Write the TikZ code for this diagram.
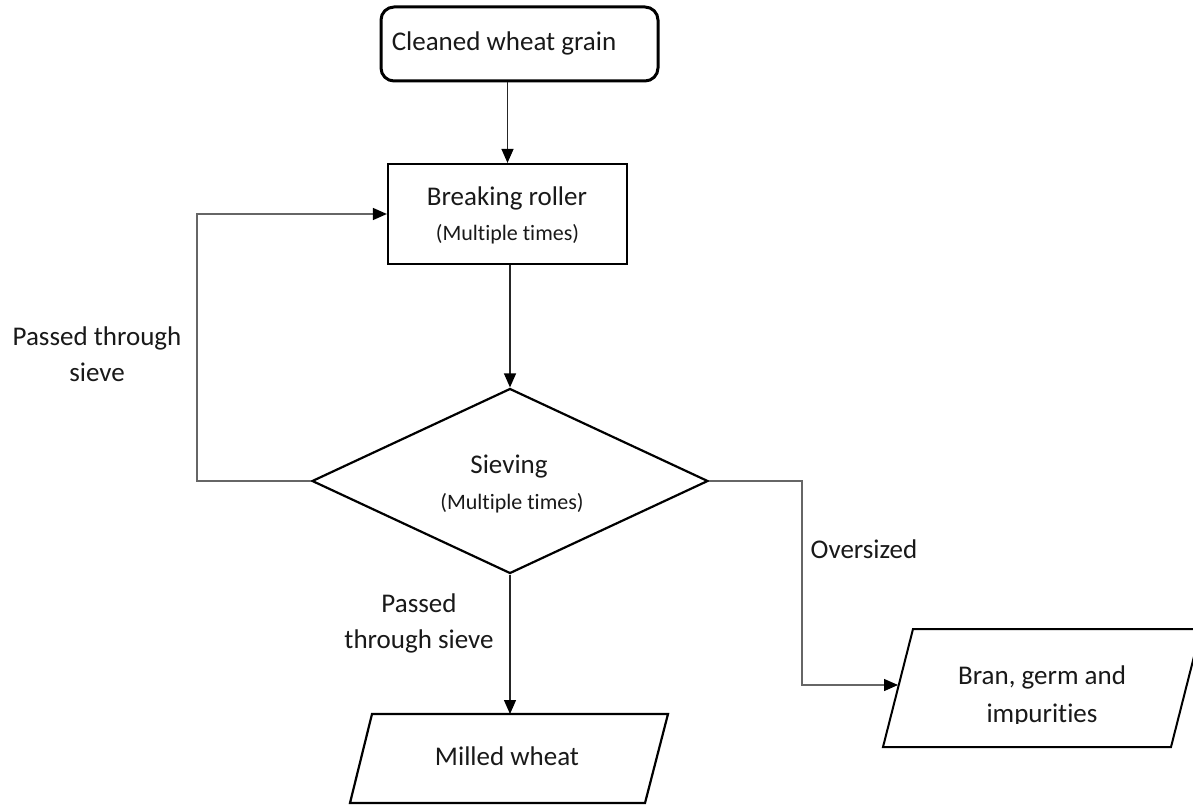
\documentclass[tikz,border=0pt]{standalone}
\usepackage{fontspec}
\setmainfont{Carlito}[RawFeature={-liga}]
\usetikzlibrary{arrows.meta,shapes.geometric,calc}
\begin{document}
\begin{tikzpicture}[x=1pt,y=-1pt,
  mainf/.style={font=\fontsize{27}{36}\selectfont, inner sep=0pt, text=black!90},
  subf/.style={font=\fontsize{22}{27}\selectfont, inner sep=0pt, text=black!90},
  lbl/.style={font=\fontsize{27}{36}\selectfont, inner sep=0pt, align=center, text=black!90},
  boxline/.style={draw=black, line width=2.2pt},
  conn/.style={draw=black!85, line width=1.3pt, -{Triangle[length=14pt,width=12pt,color=black]}},
  sconn/.style={draw=black!60, line width=1.4pt, -{Triangle[length=14pt,width=12pt,color=black]}}
]
\useasboundingbox (0,0) rectangle (1193,805);
\fill[white] (0,0) rectangle (1193,805);

% start box
\node[boxline, line width=3pt, rounded corners=13pt, minimum width=277pt, minimum height=74pt, inner sep=0pt] (top) at (519.5,44) {};
\node[mainf] (toptxt) at (504,43) {Cleaned wheat grain};

% breaking roller
\node[boxline, minimum width=239pt, minimum height=100pt, inner sep=0pt] (roll) at (507.5,214) {};
\node[mainf] (roll1) at (507,198) {Breaking roller};
\node[subf] (roll2) at (507.5,234) {(Multiple times)};

% sieving
\node[boxline, diamond, minimum width=396pt, minimum height=185pt, inner sep=0pt] (sieve) at (510,481) {};
\node[mainf] (sieve1) at (509,467) {Sieving};
\node[subf] (sieve2) at (512,503) {(Multiple times)};

% milled wheat parallelogram
\coordinate (m1) at (372,714);
\coordinate (m2) at (668,714);
\coordinate (m3) at (645,803);
\coordinate (m4) at (350,803);
\draw[boxline] (m1) -- (m2) -- (m3) -- (m4) -- cycle;
\coordinate (mtop) at (510,714);
\node[mainf] (milled) at (507,756) {Milled wheat};

% bran parallelogram
\coordinate (b1) at (913,629);
\coordinate (b2) at (1201,629);
\coordinate (b3) at (1171,747);
\coordinate (b4) at (883,747);
\draw[boxline, line width=2pt] (b1) -- (b2) -- (b3) -- (b4) -- cycle;
\coordinate (bin) at (898,685);
\node[mainf] (bran1) at (1042,677) {Bran, germ and};
\begin{scope}
  \clip (880,690) rectangle (1193,723);
  \node[mainf, anchor=base] (bran2) at (1042,722) {impurities};
\end{scope}

% loop-back and side coordinates
\coordinate (lx) at (197,0);
\coordinate (rx) at (802,0);

% connectors
\draw[conn] (top.south -| roll.north) -- (roll.north);
\draw[conn] (roll.south -| sieve.north) -- (sieve.north);
\draw[conn] (sieve.south) -- (mtop);
\draw[sconn] (sieve.west) -- (sieve.west -| lx) |- (roll.west);
\draw[sconn] (sieve.east) -- (sieve.east -| rx) |- (bin);

% labels
\node[lbl] (lblleft) at (97,354) {Passed through\\sieve};
\node[lbl] (lblmid) at (419,623) {Passed\\through sieve};
\node[lbl] (lblright) at (864,549) {Oversized};
\end{tikzpicture}
\end{document}
